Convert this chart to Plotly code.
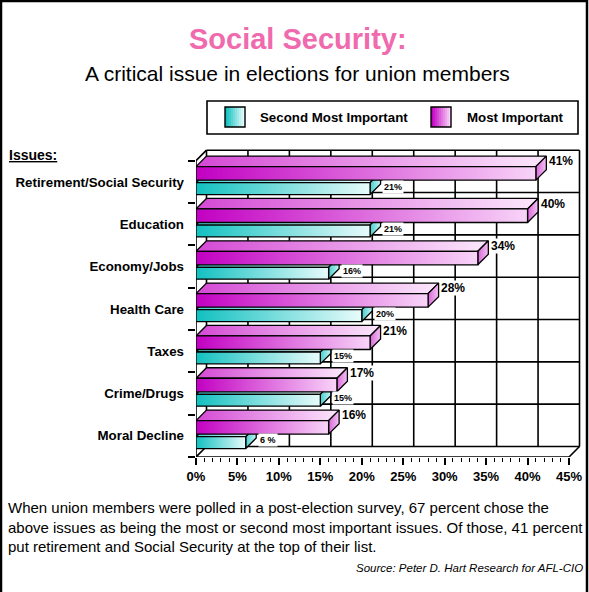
import plotly.graph_objects as go

# ---------------- data ----------------
categories = ["Retirement/Social Security", "Education", "Economy/Jobs",
              "Health Care", "Taxes", "Crime/Drugs", "Moral Decline"]
most_important = [41, 40, 34, 28, 21, 17, 16]
second_most = [21, 21, 16, 20, 15, 15, 6]
most_labels = ["41%", "40%", "34%", "28%", "21%", "17%", "16%"]
second_labels = ["21%", "21%", "16%", "20%", "15%", "15%", "6 %"]
x_tick_vals = [0, 5, 10, 15, 20, 25, 30, 35, 40, 45]
x_tick_text = ["0%", "5%", "10%", "15%", "20%", "25%", "30%", "35%", "40%", "45%"]

# ---------------- geometry / style ----------------
FW, FH = 589, 592
L, R, T, B = 196, 584, 145, 457          # plot area in pixels
SX = 8.289                               # px per percent
SY = 42.33                               # px per category band
W, H = R - L, B - T
DX = 10.5 / SX                           # 3-D depth in data units
DY = 10.5 / SY
XMAX = max(x_tick_vals)
N = len(categories)

FONT = "Liberation Sans, Arial, sans-serif"
LW = 1.3

MAG = dict(front=["#C200C2", "#F8D4F8"], top=["#D448D4", "#FCE8FC"], side=["#DA66DA", "#F2C4F2"])
CYA = dict(front=["#12C0C0", "#E8FBFB"], top=["#48D0D0", "#F0FDFD"], side=["#44CECE", "#C8F4F4"])


def px(x):
    return (x - L) / W


def py(y):
    return (B - y) / H


fig = go.Figure()

# ---------------- back wall / floor grid ----------------
gx, gy = [], []
for k in range(0, XMAX // 5 + 1):
    xv = k * 5 + DX
    gx += [xv, xv, None]
    gy += [DY, N + DY, None]
for j in range(0, N + 1):
    gx += [DX, XMAX + DX, None]
    gy += [j + DY, j + DY, None]
# front edges and diagonals
gx += [0, 0, None, 0, XMAX, None, 0, DX, None, XMAX, XMAX + DX, None, 0, DX, None]
gy += [0, N, None, 0, 0, None, 0, DY, None, 0, DY, None, N, N + DY, None]
fig.add_trace(go.Scatter(x=gx, y=gy, mode="lines", line=dict(color="black", width=1.6),
                         hoverinfo="skip", showlegend=False))


def poly(xs, ys, cols):
    fig.add_trace(go.Scatter(
        x=xs + [xs[0]], y=ys + [ys[0]], mode="lines", fill="toself",
        fillgradient=dict(type="horizontal", colorscale=[[0, cols[0]], [1, cols[1]]]),
        line=dict(color="black", width=LW), hoverinfo="skip", showlegend=False))


def box(v, ylo, yhi, pal):
    poly([0, v, v + DX, DX], [yhi, yhi, yhi + DY, yhi + DY], pal["top"])
    poly([v, v + DX, v + DX, v], [ylo, ylo + DY, yhi + DY, yhi], pal["side"])
    poly([0, v, v, 0], [ylo, ylo, yhi, yhi], pal["front"])


annotations = []
for i, cat in enumerate(categories):
    yb = N - 1 - i
    c_lo, c_hi = yb + 0.20, yb + 0.48
    m_lo, m_hi = yb + 0.54, yb + 0.86
    box(second_most[i], c_lo, c_hi, CYA)
    box(most_important[i], m_lo, m_hi, MAG)
    annotations.append(dict(x=most_important[i] + DX + 0.2, y=m_hi + DY / 2, xref="x", yref="y",
                            text="<b>%s</b>" % most_labels[i], showarrow=False, xanchor="left",
                            yanchor="middle", bgcolor="white", borderpad=0,
                            font=dict(family=FONT, size=12, color="black")))
    annotations.append(dict(x=second_most[i] + DX + 0.2, y=c_hi - 0.09, xref="x", yref="y",
                            text="<b>%s</b>" % second_labels[i], showarrow=False, xanchor="left",
                            yanchor="middle", bgcolor="white", borderpad=1,
                            font=dict(family=FONT, size=9, color="black")))

# ---------------- texts ----------------
annotations += [
    dict(x=px(298), y=py(39), xref="paper", yref="paper", text="<b>Social Security:</b>",
         showarrow=False, xanchor="center", yanchor="middle",
         font=dict(family=FONT, size=29, color="#F06AAE")),
    dict(x=px(297), y=py(74), xref="paper", yref="paper",
         text="A critical issue in elections for union members",
         showarrow=False, xanchor="center", yanchor="middle",
         font=dict(family=FONT, size=21, color="black")),
    dict(x=px(258), y=py(117), xref="paper", yref="paper", text="<b>Second Most Important</b>",
         showarrow=False, xanchor="left", yanchor="middle",
         font=dict(family=FONT, size=13.3, color="black")),
    dict(x=px(465), y=py(117), xref="paper", yref="paper", text="<b>Most Important</b>",
         showarrow=False, xanchor="left", yanchor="middle",
         font=dict(family=FONT, size=13.3, color="black")),
    dict(x=px(7), y=py(155), xref="paper", yref="paper", text="<b><u>Issues:</u></b>",
         showarrow=False, xanchor="left", yanchor="middle",
         font=dict(family=FONT, size=14, color="black")),
    dict(x=px(6), y=py(497), xref="paper", yref="paper", align="left",
         text="When union members were polled in a post-election survey, 67 percent chose the<br>"
              "above issues as being the most or second most important issues. Of those, 41 percent<br>"
              "put retirement and Social Security at the top of their list.",
         showarrow=False, xanchor="left", yanchor="top",
         font=dict(family=FONT, size=15, color="black")),
    dict(x=px(585), y=py(568), xref="paper", yref="paper",
         text="<i>Source: Peter D. Hart Research for AFL-CIO</i>",
         showarrow=False, xanchor="right", yanchor="middle",
         font=dict(family=FONT, size=11.5, color="black")),
]

# ---------------- shapes: legend & frame ----------------
shapes = [
    dict(type="rect", xref="paper", yref="paper", x0=px(1), x1=px(587), y0=py(1), y1=py(600),
         line=dict(color="black", width=2.5), fillcolor="rgba(0,0,0,0)", layer="below"),
    dict(type="rect", xref="paper", yref="paper", x0=px(207), x1=px(578), y0=py(101), y1=py(134),
         line=dict(color="black", width=1.6), fillcolor="white"),
]


def hexmix(c0, c1, t):
    a = [int(c0[k:k + 2], 16) for k in (1, 3, 5)]
    b = [int(c1[k:k + 2], 16) for k in (1, 3, 5)]
    return "#%02x%02x%02x" % tuple(round(a[k] + (b[k] - a[k]) * t) for k in range(3))


def legend_square(x0, cols):
    n = 10
    w = 20.0 / n
    for s in range(n):
        shapes.append(dict(type="rect", xref="paper", yref="paper", x0=px(x0 + s * w),
                           x1=px(x0 + (s + 1) * w + 0.4), y0=py(107), y1=py(127),
                           line=dict(width=0), fillcolor=hexmix(cols[0], cols[1], s / (n - 1))))
    shapes.append(dict(type="rect", xref="paper", yref="paper", x0=px(x0), x1=px(x0 + 20),
                       y0=py(107), y1=py(127), line=dict(color="black", width=1.4)))


legend_square(225, CYA["front"])
legend_square(431, MAG["front"])

fig.update_layout(
    width=FW, height=FH, margin=dict(l=L, r=FW - R, t=T, b=FH - B, pad=0, autoexpand=False),
    paper_bgcolor="white", plot_bgcolor="white",
    annotations=annotations, shapes=shapes, showlegend=False,
    xaxis=dict(range=[0, W / SX], tickvals=x_tick_vals, ticktext=["<b>%s</b>" % t for t in x_tick_text],
               ticks="outside", ticklen=7, tickwidth=1.6, tickcolor="black",
               minor=dict(tickvals=list(range(0, XMAX + 1)), ticks="outside", ticklen=4,
                          tickwidth=1.2, tickcolor="black"),
               showgrid=False, zeroline=False, showline=False, automargin=False,
               tickfont=dict(family=FONT, size=13, color="black"), fixedrange=True),
    yaxis=dict(range=[0, H / SY], tickvals=[N - 1 - i + 0.5 for i in range(N)],
               ticktext=["<b>%s</b>" % c for c in categories], ticks="",
               minor=dict(tickvals=list(range(0, N + 1)), ticks="outside", ticklen=7,
                          tickwidth=1.6, tickcolor="black"),
               ticklabelstandoff=11, automargin=False,
               showgrid=False, zeroline=False, showline=False,
               tickfont=dict(family=FONT, size=13.3, color="black"), fixedrange=True),
)

fig.write_html("out.html", config={"displayModeBar": False},
               post_script="document.body.style.margin='0px';")
